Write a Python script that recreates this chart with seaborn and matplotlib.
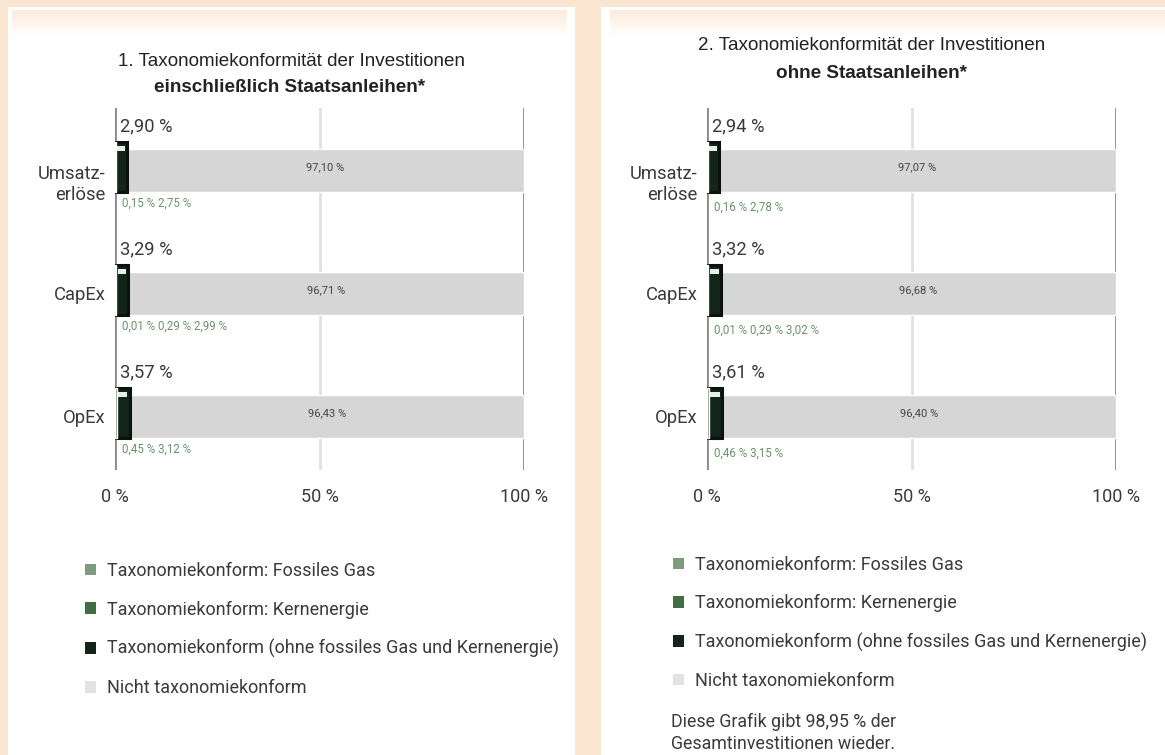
import matplotlib
matplotlib.use("Agg")
import matplotlib.pyplot as plt
import seaborn as sns
import pandas as pd
import numpy as np
from matplotlib.patches import Rectangle, Patch
from matplotlib.colors import LinearSegmentedColormap
import matplotlib.transforms as mtransforms

# ---------------- data ----------------
categories = ["Umsatz-\nerlöse", "CapEx", "OpEx"]

# Chart 1: including sovereign bonds
gas_1 = [0.00, 0.01, 0.00]
nuclear_1 = [0.15, 0.29, 0.45]
other_1 = [2.75, 2.99, 3.12]
aligned_total_1 = [2.90, 3.29, 3.57]
not_aligned_1 = [97.10, 96.71, 96.43]

# Chart 2: excluding sovereign bonds
gas_2 = [0.00, 0.01, 0.00]
nuclear_2 = [0.16, 0.29, 0.46]
other_2 = [2.78, 3.02, 3.15]
aligned_total_2 = [2.94, 3.32, 3.61]
not_aligned_2 = [97.07, 96.68, 96.40]

x_ticks = [0, 50, 100]
x_tick_labels = ["0 %", "50 %", "100 %"]

title_1 = "1. Taxonomiekonformität der Investitionen"
subtitle_1 = "einschließlich Staatsanleihen*"
title_2 = "2. Taxonomiekonformität der Investitionen"
subtitle_2 = "ohne Staatsanleihen*"

legend_labels = [
    "Taxonomiekonform: Fossiles Gas",
    "Taxonomiekonform: Kernenergie",
    "Taxonomiekonform (ohne fossiles Gas und Kernenergie)",
    "Nicht taxonomiekonform",
]
note_text = "Diese Grafik gibt 98,95 % der\nGesamtinvestitionen wieder."

# ---------------- style ----------------
C_GAS = "#7f9a7c"
C_NUC = "#426e45"
C_DARK = "#13251a"
C_GRAY = "#d6d6d6"
C_GRAY_LEG = "#e1e2e4"
C_PEACH = "#f9e5d0"
C_LABEL_GREEN = "#6a936a"
C_TEXT = "#3a3a3a"
WEIGHT = "normal"

sns.set_style("white")
plt.rcParams["font.family"] = ["Roboto", "DejaVu Sans"]
TITLE_FONT = ["Liberation Sans", "DejaVu Sans"]

W, H = 1165, 755
fig = plt.figure(figsize=(W / 100, H / 100), dpi=100)
fig.patch.set_facecolor(C_PEACH)


def fx(px):
    return px / W


def fy(py):
    return 1 - py / H


# panels (white) with a soft peach gradient at the top
def panel(x0, x1, inner0, inner1):
    fig.patches.append(Rectangle((fx(x0), 0), fx(x1) - fx(x0), fy(7), transform=fig.transFigure,
                                 facecolor="white", edgecolor="none", zorder=0))
    gax = fig.add_axes([fx(inner0), fy(36), fx(inner1) - fx(inner0), fy(10) - fy(36)], zorder=0.5)
    grad = np.linspace(0, 1, 64).reshape(-1, 1)
    cmap = LinearSegmentedColormap.from_list("g", ["#fcebdc", "#ffffff"])
    gax.imshow(grad, aspect="auto", cmap=cmap, extent=(0, 1, 1, 0))
    gax.axis("off")


panel(8, 575, 12, 567)
panel(601, 1165, 610, 1165)


def draw_chart(ax_px, gas, nuclear, other, aligned_total, not_aligned, small_dy):
    x0, x1, ytop, ybot = ax_px
    ax = fig.add_axes([fx(x0), fy(ybot), fx(x1) - fx(x0), fy(ytop) - fy(ybot)], zorder=2)
    ax.set_facecolor("none")
    df = pd.DataFrame({
        "cat": categories,
        "gas": gas,
        "nuc_cum": np.add(gas, nuclear),
        "aligned_cum": np.add(np.add(gas, nuclear), other),
        "total": np.add(aligned_total, not_aligned),
    })
    # background: full (aligned + not aligned) in gray
    sns.barplot(data=df, x="total", y="cat", orient="h", color=C_GRAY, saturation=1,
                width=0.35, ax=ax, zorder=2)
    n_gray = len(ax.patches)
    sns.barplot(data=df, x="aligned_cum", y="cat", orient="h", color=C_DARK, saturation=1,
                width=0.41, ax=ax, edgecolor="#0a140c", linewidth=2.2, zorder=3)
    sns.barplot(data=df, x="nuc_cum", y="cat", orient="h", color=C_NUC, saturation=1,
                width=0.41, ax=ax, zorder=3.1)
    sns.barplot(data=df, x="gas", y="cat", orient="h", color=C_GAS, saturation=1,
                width=0.41, ax=ax, zorder=3.2)
    # aligned bars sit a little higher than the gray bar (bottoms aligned)
    for p in ax.patches[n_gray:]:
        p.set_y(p.get_y() - 0.03)
    # light highlight strip at the top of the aligned bars
    for p in ax.patches[n_gray:n_gray + 3]:
        ax.add_patch(Rectangle((p.get_x() + p.get_width() * 0.2, p.get_y() + 0.035),
                               p.get_width() * 0.65, 0.045, facecolor="#e8eee8",
                               edgecolor="none", zorder=4))

    ax.set_xlim(0, 100)
    ax.set_ylim(2.435, -0.508)
    ax.set_xlabel("")
    ax.set_ylabel("")
    for s in ax.spines.values():
        s.set_visible(False)
    ax.set_xticks(x_ticks)
    ax.set_xticklabels(x_tick_labels, fontsize=13, color=C_TEXT, fontweight=WEIGHT)
    ax.tick_params(axis="x", length=0, pad=13)
    ax.tick_params(axis="y", length=0, pad=7)
    for lab in ax.get_yticklabels():
        lab.set_fontsize(13.2)
        lab.set_color(C_TEXT)
        lab.set_fontweight(WEIGHT)
    first = ax.get_yticklabels()[0]
    first.set_transform(first.get_transform() +
                        mtransforms.ScaledTranslation(0, -11 / 100, fig.dpi_scale_trans))
    ax.xaxis.grid(True, linewidth=2)
    gl = ax.get_xgridlines()
    for line, tick in zip(gl, x_ticks):
        line.set_color("#e0e0e0" if tick == 50 else "#8a8a8a")
        line.set_zorder(1)
    ax.set_axisbelow(True)

    def fmt(v):
        return f"{v:.2f}".replace(".", ",") + " %"

    for i in range(len(categories)):
        ax.text(1.3, i - 0.355, fmt(aligned_total[i]), ha="left", va="center",
                fontsize=13.2, color=C_TEXT, fontweight=WEIGHT, zorder=5)
        parts = [fmt(v) for v in (gas[i], nuclear[i], other[i]) if v > 0]
        ax.text(1.8, i + small_dy, " ".join(parts), ha="left", va="center",
                fontsize=8.3, color=C_LABEL_GREEN, zorder=5)
        ax.text((aligned_total[i] + 100) / 2, i - 0.03, fmt(not_aligned[i]), ha="center",
                va="center", fontsize=8.0, color="#444444", zorder=5)
    return ax


ax1 = draw_chart((115, 524, 108, 470), gas_1, nuclear_1, other_1, aligned_total_1,
                 not_aligned_1, 0.27)
ax2 = draw_chart((707, 1116, 108, 470), gas_2, nuclear_2, other_2, aligned_total_2,
                 not_aligned_2, 0.295)

# titles
fig.text(fx(292), fy(62), title_1, ha="center", va="center", fontsize=13.6,
         family=TITLE_FONT, color="#222222")
fig.text(fx(290), fy(88), subtitle_1, ha="center", va="center", fontsize=13.6,
         family=TITLE_FONT, fontweight="bold", color="#222222")
fig.text(fx(872), fy(46), title_2, ha="center", va="center", fontsize=13.6,
         family=TITLE_FONT, color="#222222")
fig.text(fx(872), fy(73), subtitle_2, ha="center", va="center", fontsize=13.6,
         family=TITLE_FONT, fontweight="bold", color="#222222")

# legends
leg_colors = [C_GAS, C_NUC, C_DARK, C_GRAY_LEG]
handles = [Patch(facecolor=c, edgecolor="none") for c in leg_colors]


def add_legend(x_px, y_px, spacing):
    fig.legend(handles, legend_labels, loc="upper left",
               bbox_to_anchor=(fx(x_px), fy(y_px)), frameon=False,
               handlelength=0.62, handleheight=0.62, handletextpad=0.62,
               labelspacing=spacing, borderpad=0, borderaxespad=0,
               prop={"size": 13.0, "weight": WEIGHT}, labelcolor=C_TEXT)


add_legend(85, 562, 1.14)
add_legend(673, 556, 1.12)

fig.text(fx(671), fy(733), note_text, ha="left", va="center", fontsize=12.8,
         color=C_TEXT, fontweight=WEIGHT, linespacing=1.3)

fig.savefig("out.png", dpi=100, facecolor=fig.get_facecolor())
